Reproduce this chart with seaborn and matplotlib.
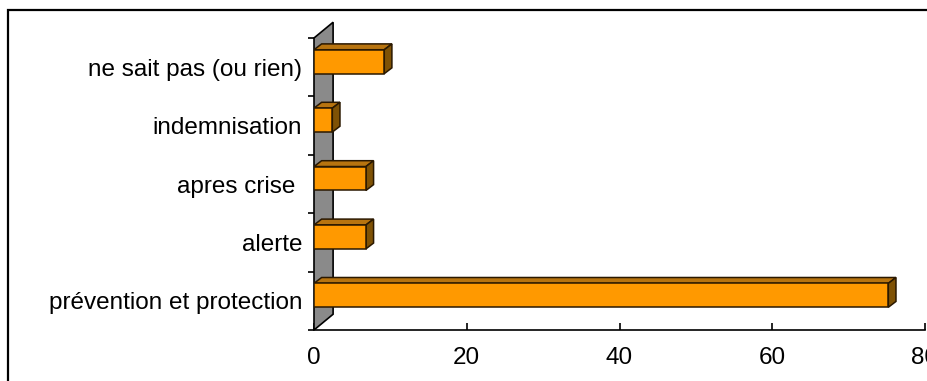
"""
Horizontal 3D-looking bar chart of answers by category, drawn with seaborn.
"""
import matplotlib
matplotlib.use('Agg')
import matplotlib.pyplot as plt
from matplotlib.patches import Polygon, Rectangle
import numpy as np
import pandas as pd
import seaborn as sns

categories = ['ne sait pas (ou rien)', 'indemnisation', 'apres crise ',
              'alerte', 'prévention et protection']
values = [9.2, 2.4, 6.8, 6.8, 75.2]
x_ticks = [0, 20, 40, 60, 80]

FRONT = '#FF9900'
TOP = '#B8740F'
SIDE = '#7F5205'
EDGE = '#2A1800'


def add_depth(ax, bars, dx, dy):
    """Add top and side faces to each bar so they look like blocks."""
    for p in bars:
        x0, y0 = p.get_x(), p.get_y()
        w, h = p.get_width(), p.get_height()
        top = Polygon([(x0, y0), (x0 + w, y0), (x0 + w + dx, y0 - dy),
                       (x0 + dx, y0 - dy)], closed=True, facecolor=TOP,
                      edgecolor=EDGE, linewidth=1.1, zorder=3)
        side = Polygon([(x0 + w, y0), (x0 + w, y0 + h),
                        (x0 + w + dx, y0 + h - dy), (x0 + w + dx, y0 - dy)],
                       closed=True, facecolor=SIDE, edgecolor=EDGE,
                       linewidth=1.1, zorder=3)
        ax.add_patch(top)
        ax.add_patch(side)


def main():
    """Build the chart and save it as out.png."""
    sns.set_style('white')
    plt.rcParams['font.family'] = ['Liberation Sans', 'DejaVu Sans']
    plt.rcParams['text.color'] = 'black'
    plt.rcParams['xtick.color'] = 'black'
    plt.rcParams['ytick.color'] = 'black'

    df = pd.DataFrame({'cat': categories, 'val': values})
    n = len(categories)
    shift = 0.094

    fig = plt.figure(figsize=(9.28, 3.81), dpi=100)
    ax = fig.add_axes([314 / 928, 1 - 330 / 381, 611 / 928, 292 / 381])
    sns.barplot(data=df, y='cat', x='val', orient='h', ax=ax, width=0.41,
                color=FRONT, saturation=1, edgecolor=EDGE, linewidth=1.1)
    bars = list(ax.patches)
    for p in bars:
        p.set_zorder(4)

    ax.set_xlim(0, 80)
    ax.set_ylim(n - 0.5 + shift, -0.5 + shift)

    # grey side wall
    ybot, ytop = n - 0.5 + shift, -0.5 + shift
    wall = Polygon([(0, ybot), (0, ytop), (2.5, ytop - 0.27),
                    (2.5, ybot - 0.27)], closed=True, facecolor='#8A8A8A',
                   edgecolor='black', linewidth=1.2, zorder=1, clip_on=False)
    ax.add_patch(wall)

    add_depth(ax, bars, 1.0, 0.1)

    ax.set_xticks(x_ticks)
    ax.set_xticklabels([str(t) for t in x_ticks], fontsize=17.5,
                       color='black')
    ax.set_yticks(np.arange(n) + shift)
    ax.set_yticklabels(categories, fontsize=17.5, color='black')
    ax.set_yticks(np.arange(n + 1) - 0.5 + shift, minor=True)
    ax.tick_params(axis='y', which='major', left=False, length=0, pad=8.6)
    ax.tick_params(axis='y', which='minor', left=True, length=4, width=1.2,
                   direction='out', color='black')
    ax.tick_params(axis='x', which='major', bottom=True, length=5, width=1.2,
                   direction='in', pad=12, color='black')
    ax.set_xlabel('')
    ax.set_ylabel('')
    for s in ['top', 'right', 'left']:
        ax.spines[s].set_visible(False)
    ax.spines['bottom'].set_color('black')
    ax.spines['bottom'].set_linewidth(1.2)

    # outer chart frame
    fig.patches.append(Rectangle((8 / 928, -0.1), 1.2, 1 - 10 / 381 + 0.1,
                                 transform=fig.transFigure, fill=False,
                                 edgecolor='black', linewidth=1.6))

    fig.savefig('out.png', dpi=100)
    return


if __name__ == '__main__':
    main()
